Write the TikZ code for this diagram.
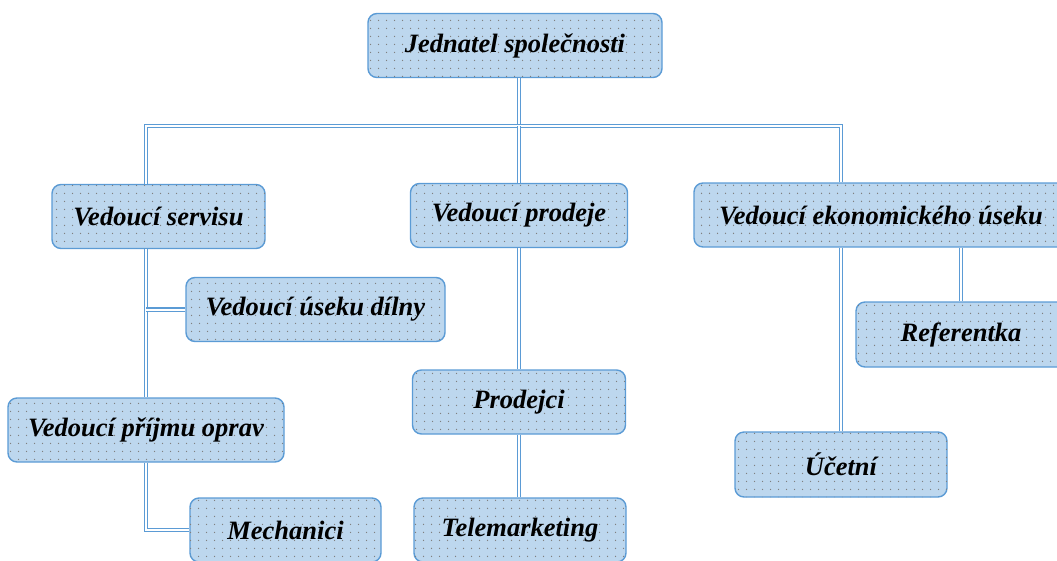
\documentclass[tikz,border=0pt]{standalone}
\usepackage{fontspec}
\setmainfont{Liberation Serif}
\usetikzlibrary{patterns.meta,calc}
\definecolor{boxfill}{HTML}{BDD7EE}
\definecolor{boxdraw}{HTML}{5B9BD5}
\definecolor{linkblue}{HTML}{5B9BD5}
\tikzdeclarepattern{
  name=boxdots,
  type=uncolored,
  bottom left={(0pt,0pt)},
  top right={(7.5pt,7.5pt)},
  tile size={(7.5pt,7.5pt)},
  code={\fill (3.75pt,3.75pt) circle (0.75pt);}
}
\tikzset{
  orgbox/.style={draw=boxdraw, line width=1.4pt, fill=boxfill, rounded corners=9pt,
    postaction={pattern=boxdots, pattern color=black!50},
    minimum height=64pt, inner sep=0pt,
    font=\fontsize{26.5}{30}\selectfont\bfseries\itshape},
  link/.style={draw=linkblue, line width=1.4pt, double=white, double distance=2pt}
}
\begin{document}
\begin{tikzpicture}[x=1pt,y=-1pt]
\useasboundingbox (0,0) rectangle (1057,560);
% nodes
\node[orgbox, minimum width=294pt] (jed) at (515,45.5) {Jednatel společnosti};
\node[orgbox, minimum width=213pt] (serv) at (158.5,216.5) {Vedoucí servisu};
\node[orgbox, minimum width=217pt] (prod) at (519,215.5) {Vedoucí prodeje};
\node[orgbox, minimum width=374pt] (ekon) at (881,215) {Vedoucí ekonomického úseku};
\node[orgbox, minimum width=259pt] (dil) at (315.5,309.5) {Vedoucí úseku dílny};
\node[orgbox, minimum width=210pt, minimum height=65pt] (ref) at (961,334.5) {Referentka};
\node[orgbox, minimum width=276pt] (pri) at (146,430) {Vedoucí příjmu oprav};
\node[orgbox, minimum width=213pt] (prj) at (519,402) {Prodejci};
\node[orgbox, minimum width=212pt, minimum height=65pt] (uce) at (841,464.5) {Účetní};
\node[orgbox, minimum width=191pt] (mech) at (285.5,530) {Mechanici};
\node[orgbox, minimum width=212pt] (tel) at (520,530) {Telemarketing};
% coordinates of the bus
\coordinate (bus) at (519,126);
\coordinate (busR) at (841,126);
% connectors
\draw[link] (jed.south -| prod.north) -- (bus);
\draw[link] (serv.north -| pri.north) |- (busR) -- (ekon.north -| busR);
\draw[link] (bus) -- (prod.north);
\draw[link] (serv.south -| pri.north) -- (pri.north);
\draw[link] (dil.west) -- (dil.west -| pri.north);
\draw[link] (pri.south) |- (mech.west);
\draw[link] (prod.south) -- (prj.north);
\draw[link] (prj.south) -- (tel.north -| prj.south);
\draw[link] (ekon.south -| uce.north) -- (uce.north);
\draw[link] (ekon.south -| ref.north) -- (ref.north);
\end{tikzpicture}
\end{document}
